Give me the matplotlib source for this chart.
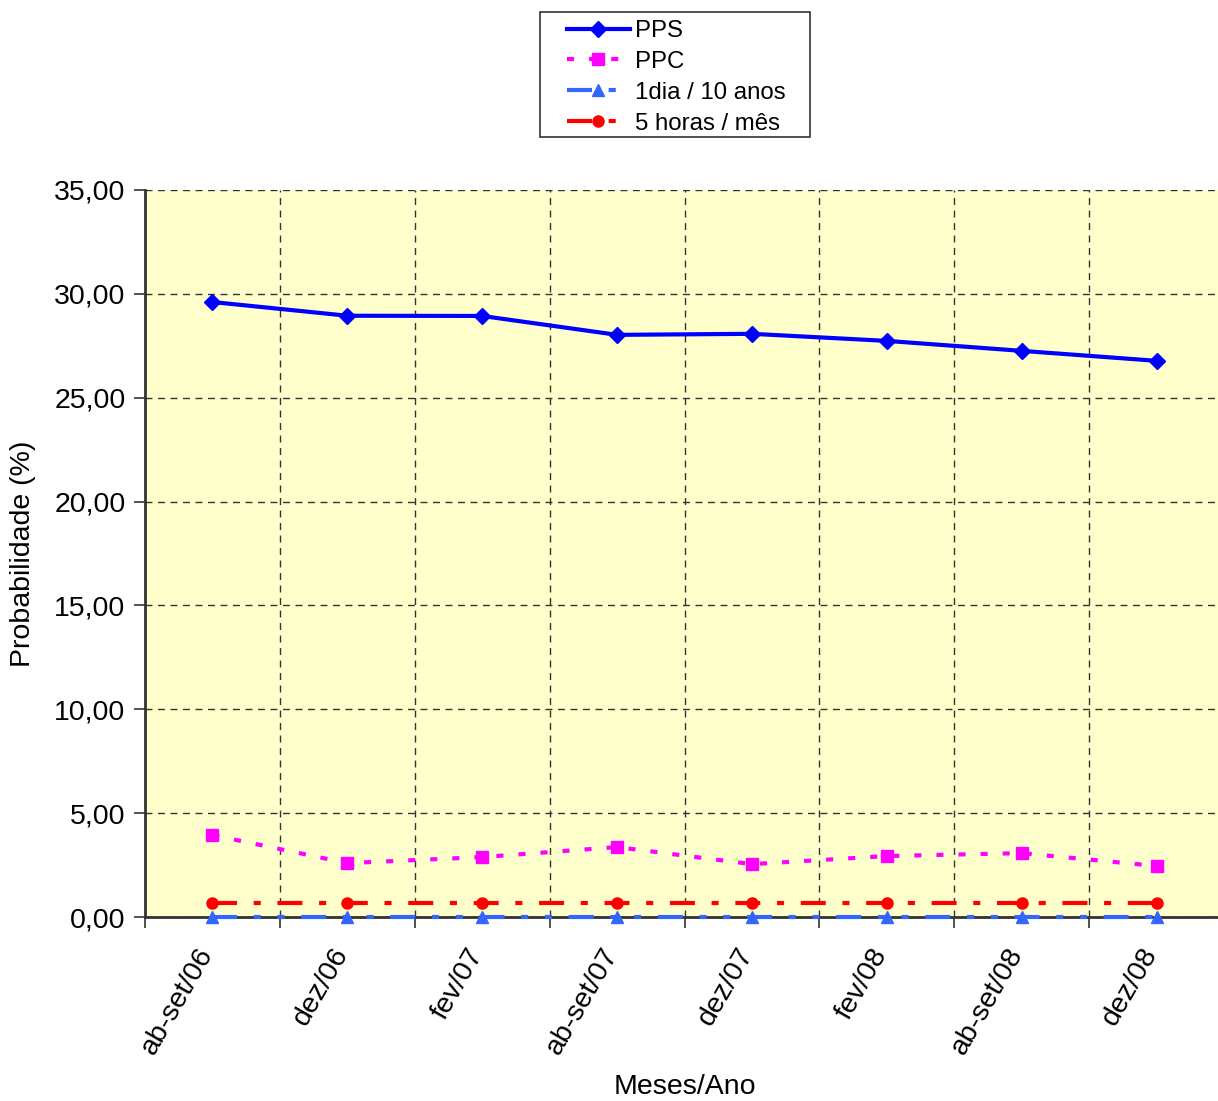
import matplotlib.pyplot as plt
import matplotlib.transforms as mtransforms
from matplotlib.patches import Rectangle
import numpy as np

plt.rcParams['font.family'] = ['Liberation Sans', 'DejaVu Sans']

meses = ['ab-set/06', 'dez/06', 'fev/07', 'ab-set/07', 'dez/07', 'fev/08', 'ab-set/08', 'dez/08']
pps = [29.60, 28.94, 28.93, 28.02, 28.07, 27.73, 27.25, 26.77]
ppc = [3.95, 2.60, 2.89, 3.37, 2.55, 2.94, 3.08, 2.46]
um_dia_10_anos = [0.03, 0.03, 0.03, 0.03, 0.03, 0.03, 0.03, 0.03]
cinco_horas_mes = [0.69, 0.69, 0.69, 0.69, 0.69, 0.69, 0.69, 0.69]

fig = plt.figure(figsize=(12.18, 11.01), dpi=100)
ax = fig.add_axes([0.119, 0.167, 0.886, 0.6606])
ax.set_facecolor('#FFFFCC')

x = np.arange(len(meses))

ax.plot(x, pps, color='#0000FF', lw=3, marker='D', ms=8, label='PPS')
ax.plot(x, ppc, color='#FF00FF', lw=3, ls=(0, (1.7, 3.6)), marker='s', ms=8.5, label='PPC')
ax.plot(x, um_dia_10_anos, color='#3366FF', lw=3, ls=(0, (6, 4, 1.7, 4, 1.7, 4)),
        marker='^', ms=8, label='1dia / 10 anos', clip_on=False, zorder=4)
ax.plot(x, cinco_horas_mes, color='#FF0000', lw=3, ls=(0, (6, 4, 1.7, 4)),
        marker='o', ms=8, label='5 horas / mês', zorder=4)

ax.set_xlim(-0.5, len(meses) - 0.5)
ax.set_ylim(0, 35)
ax.set_yticks(np.arange(0, 36, 5))
ax.set_yticklabels([f'{v:.2f}'.replace('.', ',') for v in np.arange(0, 36, 5)], fontsize=20.5)

# rótulos no centro, ticks e grade nas divisões das categorias
ax.set_xticks(x)
ax.set_xticklabels(meses, rotation=60, ha='right', va='center', rotation_mode='anchor', fontsize=20.5)
ax.tick_params(axis='x', which='major', length=0, pad=12)
desloc = mtransforms.ScaledTranslation(-0.05, -0.16, fig.dpi_scale_trans)
for rotulo in ax.get_xticklabels():
    rotulo.set_transform(rotulo.get_transform() + desloc)
ax.set_xticks(np.arange(-0.5, len(meses), 1), minor=True)
ax.tick_params(axis='x', which='minor', length=8, width=1.2, color='#333333')
ax.tick_params(axis='y', length=8, width=1.2, color='#333333', pad=6)

ax.grid(True, axis='y', which='major', color='#333333', ls=(0, (5, 4)), lw=1)
ax.grid(True, axis='x', which='minor', color='#333333', ls=(0, (5, 4)), lw=1)
ax.grid(False, axis='x', which='major')

for lado in ['top', 'right']:
    ax.spines[lado].set_visible(False)
for lado in ['left', 'bottom']:
    ax.spines[lado].set_color('#333333')
    ax.spines[lado].set_linewidth(2)

ax.set_ylabel('Probabilidade (%)', fontsize=20.5)
ax.yaxis.set_label_coords(-0.101, 0.5)
ax.set_xlabel('Meses/Ano', fontsize=20.5)
ax.xaxis.set_label_coords(0.5, -0.216)

# legenda com moldura própria
fig.legend(loc='upper left', bbox_to_anchor=(567 / 1218, 1 - 20 / 1101), fontsize=17.3,
           frameon=False, borderpad=0, borderaxespad=0,
           handlelength=2.62, labelspacing=0.37, handletextpad=0.2)
fig.patches.append(Rectangle((540 / 1218, 1 - 137 / 1101), 270 / 1218, 125 / 1101,
                             transform=fig.transFigure, fill=False,
                             edgecolor='#333333', lw=1.2))

fig.savefig('out.png', dpi=100)
